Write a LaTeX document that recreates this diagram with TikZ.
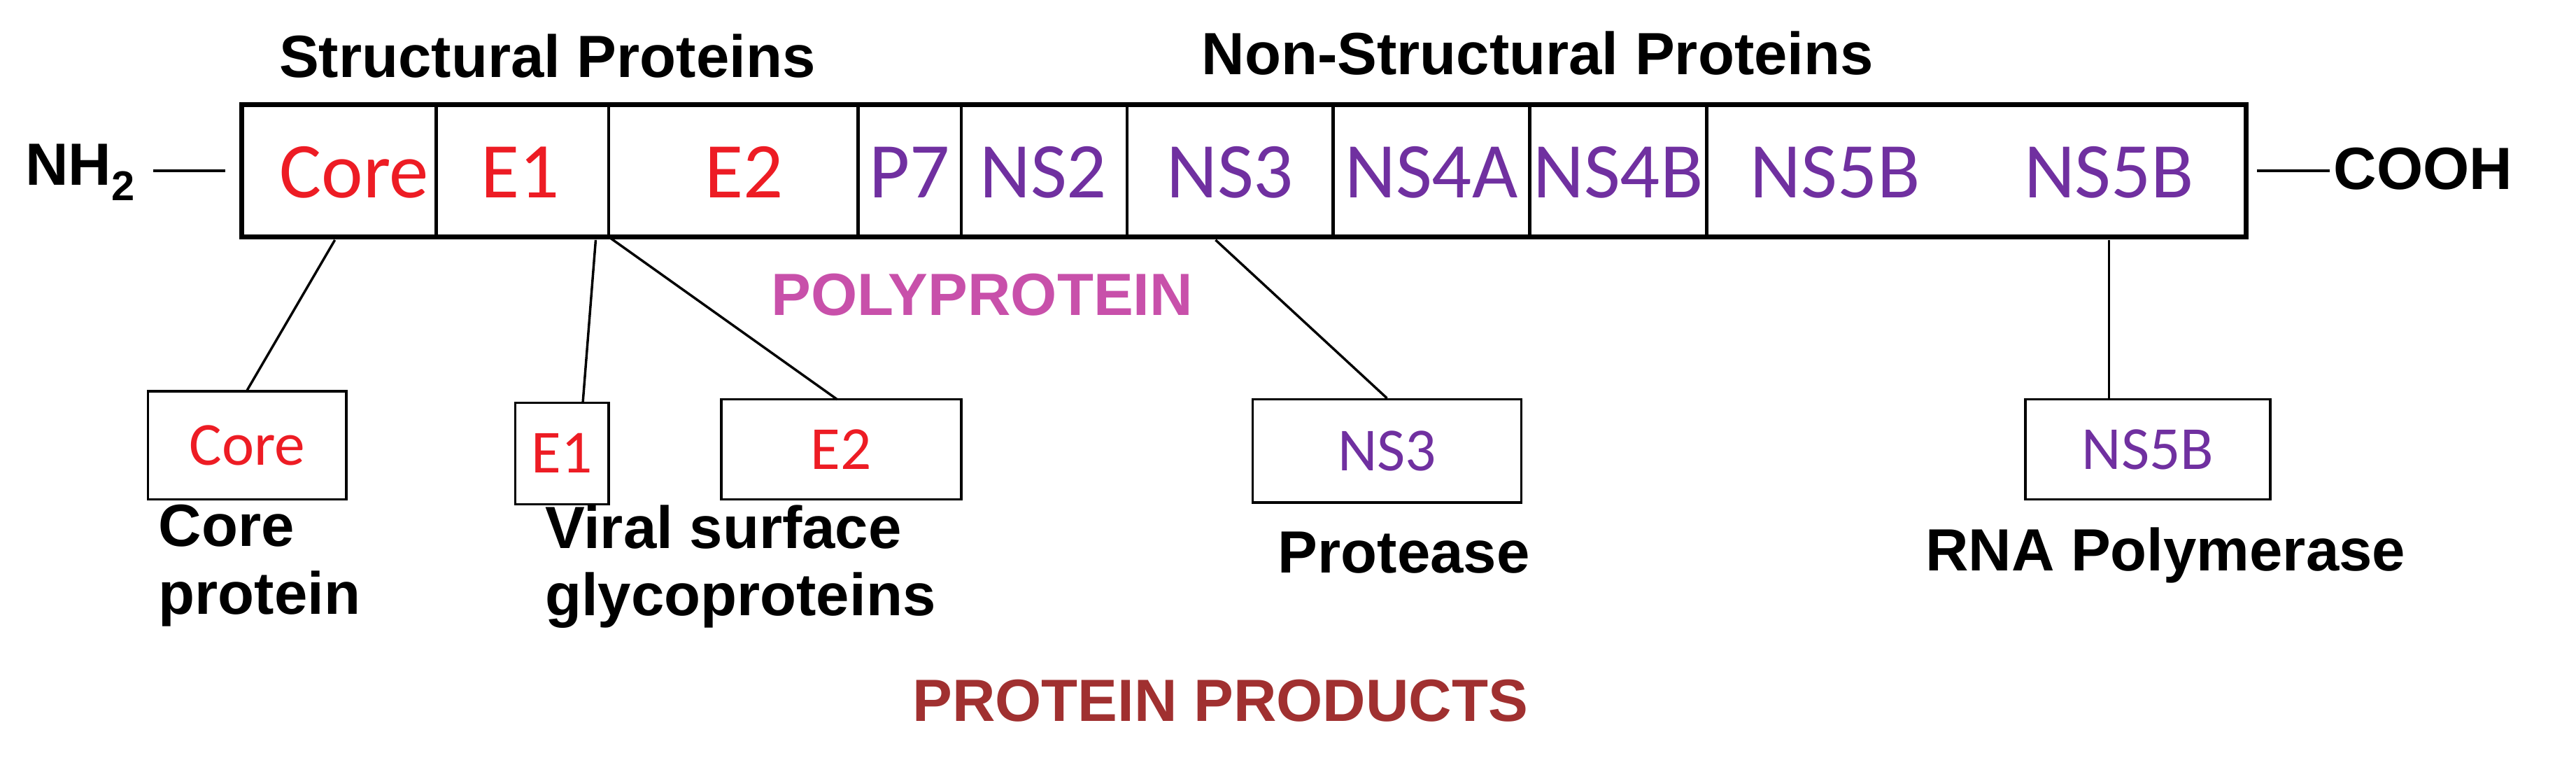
\documentclass[tikz,border=0pt]{standalone}
\usepackage{fontspec}
\setmainfont{Liberation Sans}
\newfontfamily\carl{Carlito}
\begin{document}
\begin{tikzpicture}[x=1pt,y=-1pt,
 seg/.style={font=\carl\fontsize{49}{52}\selectfont},
 red/.style={seg,text={rgb,255:red,237;green,28;blue,36}},
 pur/.style={seg,text={rgb,255:red,112;green,48;blue,160}},
 box/.style={draw,line width=1.5pt,inner sep=0pt},
 bf/.style={font=\carl\fontsize{38}{40}\selectfont},
 bl/.style={font=\bfseries\fontsize{37}{42}\selectfont},
 ln/.style={line width=1.5pt}]
\useasboundingbox (0,0) rectangle (1600,479);
\draw[line width=3pt] (150,65) rectangle (1395,147);
\foreach \x in {271,378,533,597,700,828,950,1060} \draw[line width=2pt] (\x,65)--(\x,147);
\node[red] at (220,107) {Core};
\node[red] at (323,107) {E1};
\node[red] at (462,107) {E2};
\node[pur] at (565,107) {P7};
\node[pur] at (648,107) {NS2};
\node[pur] at (764,107) {NS3};
\node[pur] at (889,107) {NS4A};
\node[pur] at (1005,107) {NS4B};
\node[pur] at (1140,107) {NS5B};
\node[pur] at (1310,107) {NS5B};
\coordinate (nl) at (95,106); \coordinate (nr) at (140,106);
\draw[ln] (nl)--(nr);
\coordinate (cl) at (1402,106); \coordinate (cr) at (1447,106);
\draw[ln] (cl)--(cr);
\node[bl] at (50,107) {NH\textsubscript{2}};
\node[bl] at (1505,105) {COOH};
\node[bl] at (340,35) {Structural Proteins};
\node[bl] at (955,33) {Non-Structural Proteins};
\node[bl,text={rgb,255:red,200;green,80;blue,170}] at (610,183) {POLYPROTEIN};
\node[bl,text={rgb,255:red,160;green,48;blue,48}] at (758,435) {PROTEIN PRODUCTS};
\node[box,red,bf,minimum width=123pt,minimum height=67pt] (bcore) at (153.5,276.5) {Core};
\node[box,red,bf,minimum width=58pt,minimum height=63pt] (be1) at (349,281.5) {E1};
\node[box,red,bf,minimum width=149pt,minimum height=62pt] (be2) at (522.5,279) {E2};
\node[box,pur,bf,minimum width=167pt,minimum height=64pt] (bns3) at (861.5,280) {NS3};
\node[box,pur,bf,minimum width=152pt,minimum height=62pt] (bns5) at (1334,279) {NS5B};
\coordinate (a1) at (208,149); \coordinate (a2) at (370,149);
\coordinate (a3) at (378,147); \coordinate (a4) at (755,149); \coordinate (a5) at (1310,149);
\draw[ln] (a1)--(bcore.north);
\draw[ln] (a2)--(362,250);
\draw[ln] (a3)--(520,248);
\draw[ln] (a4)--(bns3.north);
\draw[ln] (a5)--(1310,248);
\node[bl,align=left,anchor=north west] at (95,310) {Core\\protein};
\node[bl,align=left,anchor=north west] at (335,310) {Viral surface\\glycoproteins};
\node[bl] at (872,343) {Protease};
\node[bl] at (1345,345) {RNA Polymerase};
\end{tikzpicture}
\end{document}
